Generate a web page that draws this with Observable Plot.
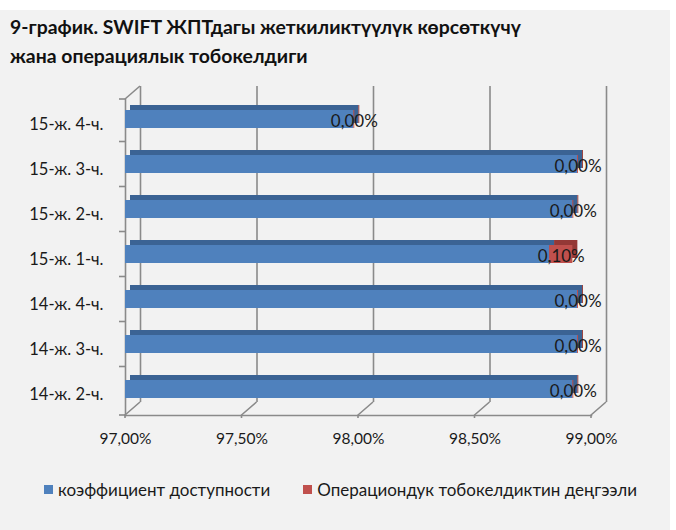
<!DOCTYPE html>
<html>
<head>
<meta charset="utf-8">
<script src="https://cdn.jsdelivr.net/npm/d3@7"></script>
<script src="https://cdn.jsdelivr.net/npm/@observablehq/plot@0.6"></script>
<style>
  html, body { margin: 0; padding: 0; background: #ffffff; }
  #wrap { position: relative; width: 676px; height: 530px; overflow: hidden; font-family: Lato, "Open Sans", sans-serif; }
  #panel { position: absolute; left: 0; top: 10px; width: 670px; height: 520px; background: #f2f2f2; }
  #title { position: absolute; left: 10px; top: 12px; font-weight: bold; font-size: 19.4px; line-height: 29px; color: #111; }
  #chart { position: absolute; left: 0; top: 0; }
  #legend { position: absolute; left: 44px; top: 479px; font-size: 17px; color: #1a1a1a; display: flex; align-items: center; }
  .sw { display: inline-block; width: 9px; height: 9px; margin-right: 5px; }
  .item { display: flex; align-items: center; margin-right: 33px; }
</style>
</head>
<body>
<div id="wrap">
  <div id="panel"></div>
  <div id="chart"></div>
  <div id="title">9-график. SWIFT ЖПТдагы жеткиликтүүлүк көрсөткүчү<br>жана операциялык тобокелдиги</div>
  <div id="legend"></div>
</div>
<script>
// ---- data ----
const categories = ["14-ж. 2-ч.", "14-ж. 3-ч.", "14-ж. 4-ч.", "15-ж. 1-ч.", "15-ж. 2-ч.", "15-ж. 3-ч.", "15-ж. 4-ч."];
const availability = [98.92, 98.94, 98.94, 98.82, 98.92, 98.94, 97.98]; // коэффициент доступности, %
const riskLevel = [0.004, 0.004, 0.004, 0.10, 0.004, 0.004, 0.004];     // Операциондук тобокелдиктин деңгээли, %
const xTicks = [97.0, 97.5, 98.0, 98.5, 99.0];
const seriesNames = ["коэффициент доступности", "Операциондук тобокелдиктин деңгээли"];
const seriesColors = ["#4f81bd", "#c0504d"];
const seriesDark = ["#3b6394", "#943836"];

(function () {
const fmt = v => v.toFixed(2).replace(".", ",") + "%";

const rows = categories.map((c, i) => ({cat: c, a: availability[i], r: riskLevel[i]}));
const segs = [];
rows.forEach(d => {
  segs.push({cat: d.cat, s: 0, x1: xTicks[0], x2: d.a});
  segs.push({cat: d.cat, s: 1, x1: d.a, x2: d.a + d.r});
});

const W = 676, H = 460;
const mTop = 99, mBottom = 45, mLeft = 125, mRight = 85;
const plot = Plot.plot({
  width: W, height: H,
  marginTop: mTop, marginBottom: mBottom, marginLeft: mLeft, marginRight: mRight,
  style: {background: "transparent", fontFamily: "Lato, 'Open Sans', sans-serif", color: "#1a1a1a", overflow: "visible"},
  x: {domain: [xTicks[0], xTicks[xTicks.length - 1]]},
  y: {domain: categories.slice().reverse(), paddingInner: 0.6, paddingOuter: 0.285, align: 0.386},
  marks: [
    Plot.ruleX(xTicks, {x: d => d, dx: 15, dy: -13, stroke: "#8a8a8a", strokeWidth: 1.6}),
    Plot.frame({anchor: "left", stroke: "#8a8a8a", strokeWidth: 1.6}),
    Plot.frame({anchor: "bottom", stroke: "#8a8a8a", strokeWidth: 1.6}),
    Plot.barX(segs, {x1: "x1", x2: "x2", y: "cat", fill: d => seriesDark[d.s], dx: 5, dy: -5}),
    Plot.barX(segs, {x1: "x1", x2: "x2", y: "cat", fill: d => seriesColors[d.s]}),
    Plot.text(rows, {x: d => d.a + d.r / 2, y: "cat", text: d => fmt(d.r), dy: 2, fontSize: 17, fill: "#1a1a1a"}),
    Plot.axisX({ticks: xTicks, tickFormat: fmt, tickSize: 0, tickPadding: 17, fontSize: 15.5}),
    Plot.axisY({tickSize: 0, tickPadding: 22, fontSize: 16.5, dy: 5, label: null})
  ]
});
document.getElementById("chart").appendChild(plot);

// 3D wall/floor decorations using the plot's scales
const xs = plot.scale("x"), ys = plot.scale("y");
const svg = d3.select(plot);
const g = svg.append("g").attr("stroke", "#8a8a8a").attr("stroke-width", 1.6).attr("fill", "none");
const yTop = mTop, yBottom = H - mBottom, xLeft = mLeft;
xTicks.forEach(v => {
  const px = xs.apply(v);
  g.append("path").attr("d", `M${px},${yBottom + 3}L${px},${yBottom}L${px + 15},${yBottom - 13}`);
});
g.append("path").attr("d", `M${xLeft},${yTop}L${xLeft + 15},${yTop - 13}`);
const step = ys.step, bw = ys.bandwidth;
const doms = ys.domain;
const bounds = [yTop];
for (let i = 0; i < doms.length - 1; i++) bounds.push(ys.apply(doms[i]) + bw + (step - bw) / 2);
bounds.push(yBottom);
bounds.forEach(y => g.append("path").attr("d", `M${xLeft - 6},${y}L${xLeft},${y}`));

// legend
const lg = document.getElementById("legend");
seriesNames.forEach((n, i) => {
  const it = document.createElement("div");
  it.className = "item";
  it.innerHTML = `<span class="sw" style="background:${seriesColors[i]}"></span>${n}`;
  lg.appendChild(it);
});
})();
</script>
</body>
</html>
